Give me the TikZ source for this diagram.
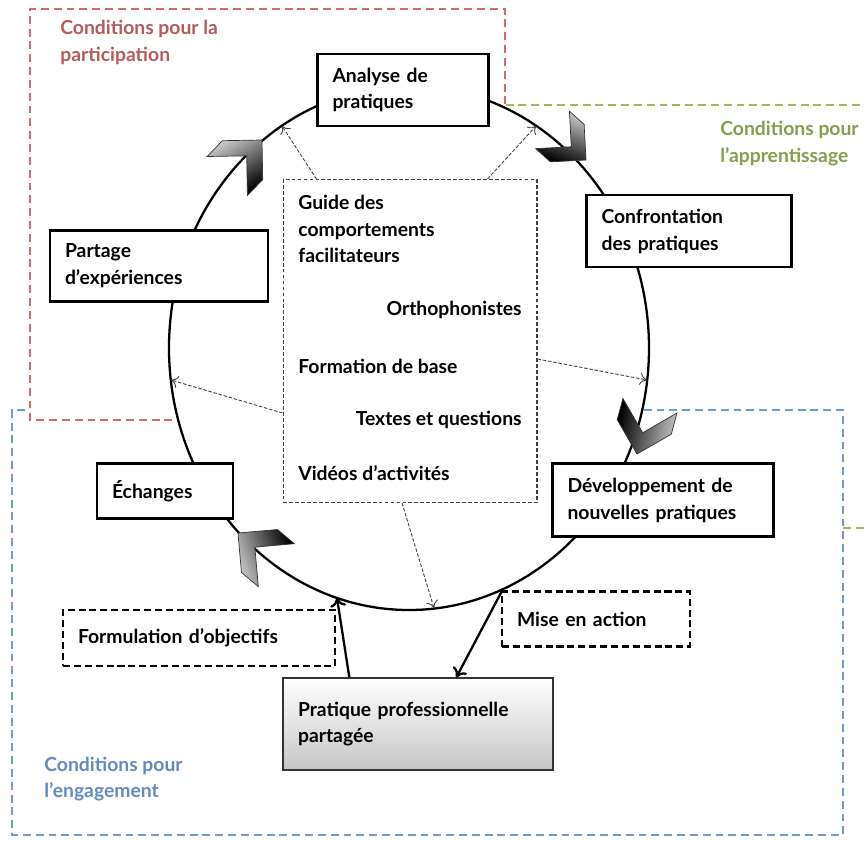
\documentclass[tikz,border=0pt]{standalone}
\usepackage{fontspec}
\setmainfont{Lato}
\usetikzlibrary{positioning}
\usetikzlibrary{calc}
\usetikzlibrary{shadows}
\usetikzlibrary{arrows.meta}

\definecolor{rouge}{HTML}{D46B6B}
\definecolor{vert}{HTML}{9BBB59}
\definecolor{bleu}{HTML}{6C9BD2}

\begin{document}
\begin{tikzpicture}[x=0.02cm, y=-0.02cm
  , font=\fontsize{11}{15.3}\selectfont\bfseries
  , etape/.style={ draw, fill=white, line width=1.3pt, align=left
                 , inner xsep=0.3cm
                 , drop shadow={opacity=0.2, shadow xshift=0.8pt, shadow yshift=-0.8pt}
                 }
  , pointille/.style={ draw, fill=white, line width=1.4pt, align=left
                     , inner xsep=0.3cm, dash pattern=on 4pt off 2.2pt
                     }
  , cadre/.style={ line width=1.4pt, dash pattern=on 4.5pt off 2.8pt }
  , lien/.style={ -{To[length=4pt, width=7pt]}, line width=0.5pt, black!75
                , dash pattern=on 2pt off 1pt }
  , fleche/.style={ -{To[length=5pt, width=9pt]}, line width=1.3pt }
  , texte/.style={ inner sep=0pt, align=left }
  , pics/chevron/.style={ code={
      \draw [black!80, line width=0.4pt, top color=gray!45, bottom color=black, shading angle=#1]
        (0,0) -- (-28,28) -- (-50,28) -- (-22,0) -- (-50,-28) -- (-28,-28) -- cycle;
    } }
  ]

  \useasboundingbox (0,0) rectangle (865,841);

  \draw [cadre, rouge] (505,130) -- (505,9) -- (30,9) -- (30,420) -- (200,420);
  \draw [cadre, vert] (480,105) -- (865,105);
  \draw [cadre, vert] (843,528) -- (865,528);
  \draw [cadre, bleu] (25,410) -- (12,410) -- (12,835) -- (843,835) -- (843,410) -- (620,410);

  \node [texte, anchor=west, text=rouge!85!black] (cpart) at (60,42) {Conditions pour la\\participation};
  \node [texte, anchor=west, text=vert!85!black] (cappr) at (720,144) {Conditions pour\\l’apprentissage};
  \node [texte, anchor=west, text=bleu!90!black] (cenga) at (44,779) {Conditions pour\\l’engagement};

  \coordinate (ctr) at (409,348);
  \draw [line width=1.3pt, fill=white] (ctr) ellipse [x radius=240, y radius=262];

  \coordinate (e1) at (282,126);
  \coordinate (e2) at (536,126);
  \coordinate (e3) at (647,380);
  \coordinate (e4) at (171,380);
  \coordinate (e5) at (434,608);
  \coordinate (e6) at (337,598);
  \coordinate (e7) at (503,589);

  \pic [rotate=46] at (262,140) {chevron=30};
  \pic [rotate=-42, scale=0.9] at (586,160) {chevron=-20};
  \pic [rotate=-105] at (637,454) {chevron=-100};
  \pic [rotate=140] at (238,533) {chevron=110};

  \node [etape, text width=2.82cm, minimum height=1.44cm] (ana) at (403,90) {Analyse de\\pratiques};
  \node [etape, text width=3.5cm, minimum height=1.44cm] (conf) at (689,231) {Confrontation\\des pratiques};
  \node [etape, text width=3.76cm, minimum height=1.42cm] (part) at (159,266) {Partage\\d’expériences};
  \node [etape, text width=2.12cm, minimum height=1.1cm] (ech) at (165,491) {Échanges};
  \node [etape, text width=3.82cm, minimum height=1.46cm] (dev) at (663,500) {Développement~de\\nouvelles pratiques};
  \node [pointille, text width=3.16cm, minimum height=1.1cm] (mise) at (596,619) {Mise en action};
  \node [pointille, text width=4.84cm, minimum height=1.12cm] (form) at (199,638) {Formulation d’objectifs};
  \node [etape, text width=4.8cm, minimum height=1.84cm, draw=black!80, line width=0.8pt
        , top color=white, bottom color=gray!45] (prat) at (418,724) {Pratique~professionnelle\\partagée};

  \node [draw, black!75, line width=0.6pt, dash pattern=on 2.2pt off 1.2pt
        , minimum width=5.08cm, minimum height=6.46cm] (res) at (410,341) {};
  \node [texte, anchor=west] (guide) at (298,229) {Guide des\\comportements\\facilitateurs};
  \node [texte, anchor=east] (ortho) at (522,310) {Orthophonistes};
  \node [texte, anchor=west] (fbase) at (298,366) {Formation de base};
  \node [texte, anchor=east] (textes) at (522,420) {Textes et questions};
  \node [texte, anchor=west] (videos) at (298,473) {Vidéos d’activités};

  \draw [lien] ($(res.north west)+(34,0)$) -- (e1);
  \draw [lien] ($(res.north east)+(-50,0)$) -- (e2);
  \draw [lien] ($(res.east)+(0,18)$) -- (e3);
  \draw [lien] ($(res.west)+(0,72)$) -- (e4);
  \draw [lien] ($(res.south)+(-8,0)$) -- (e5);

  \draw [fleche] ($(prat.north west)+(67,0)$) -- (e6);
  \draw [fleche] (e7) -- ($(prat.north west)+(174,0)$);

\end{tikzpicture}
\end{document}
